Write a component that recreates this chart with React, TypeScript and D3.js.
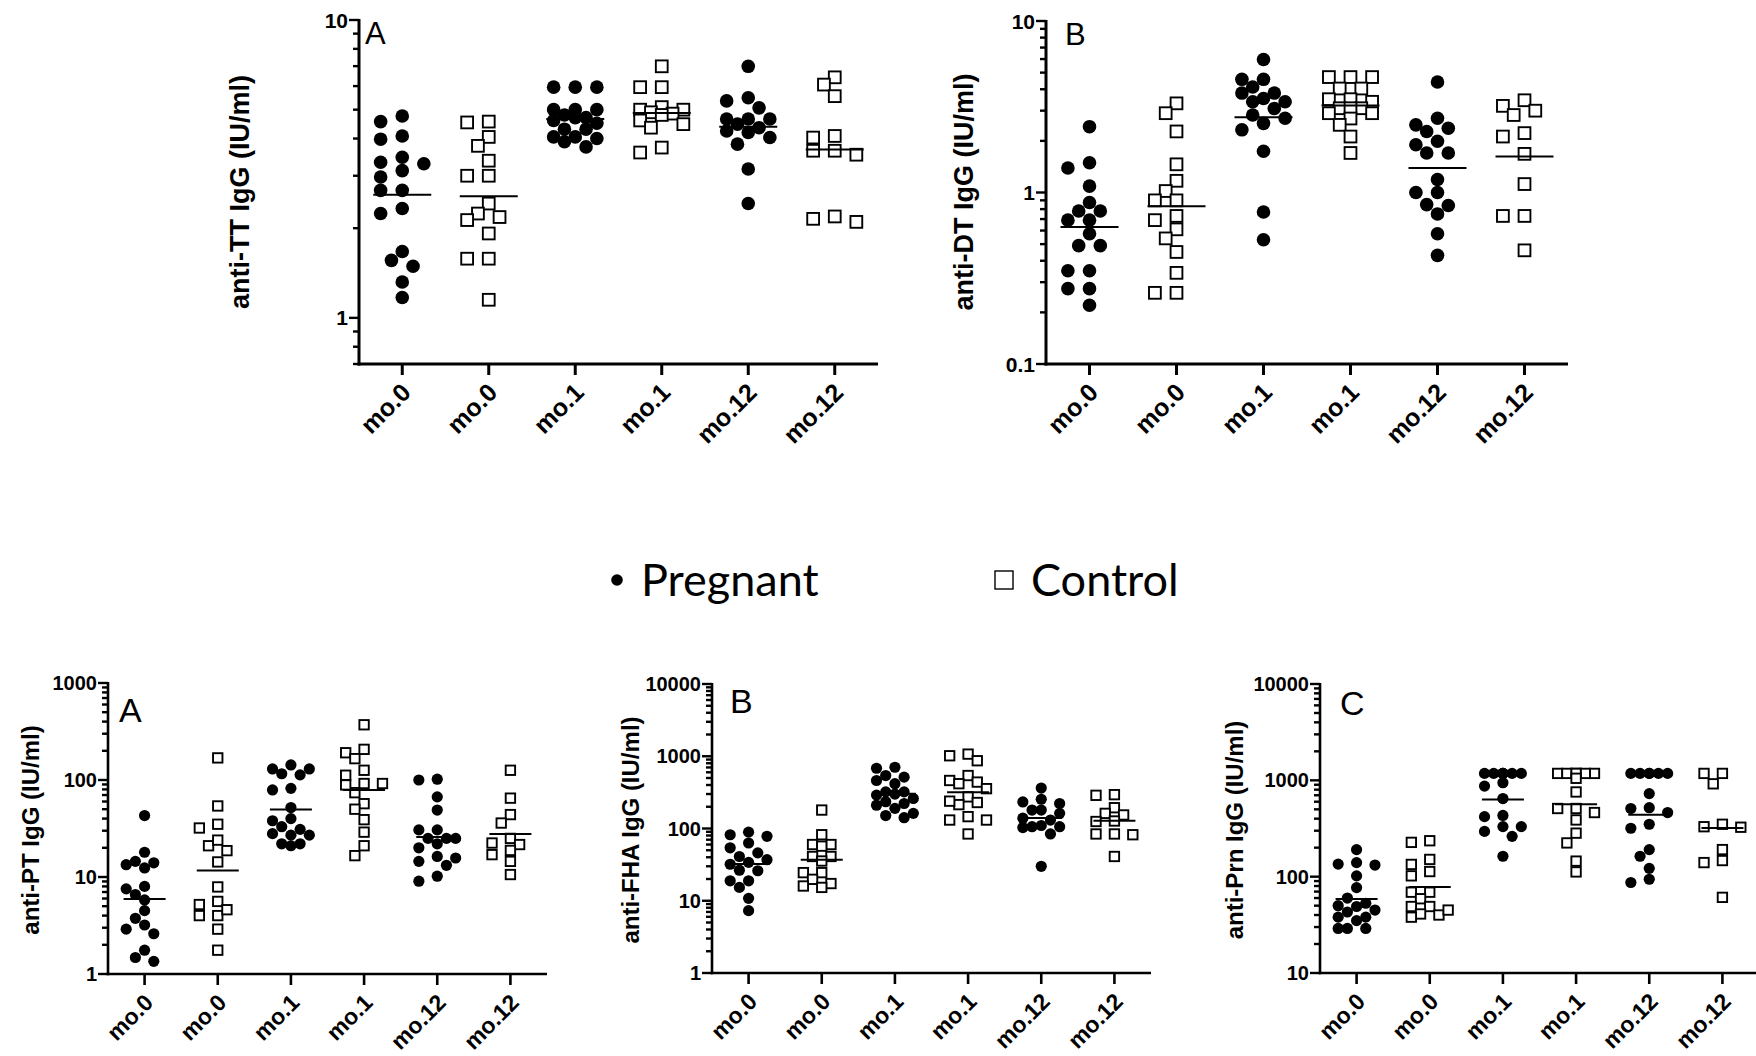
import React from "react";
import * as d3 from "d3";

// ---------- categories / legend ----------
const categories = ["mo.0", "mo.0", "mo.1", "mo.1", "mo.12", "mo.12"];
const groupKinds = ["Pregnant", "Control", "Pregnant", "Control", "Pregnant", "Control"];
const legendLabels = ["Pregnant", "Control"];

// ---------- anti-TT (IU/ml) ----------
const ttPregMo0 = [4.76, 4.56, 4.08, 3.98, 3.46, 3.33, 3.29, 3.12, 2.97, 2.68, 2.68, 2.33, 2.24, 1.67, 1.56, 1.49, 1.32, 1.17];
const ttCtrlMo0 = [4.53, 4.56, 4.05, 3.78, 3.37, 3.0, 3.0, 2.42, 2.24, 2.18, 2.13, 1.92, 1.58, 1.58, 1.15];
const ttPregMo1 = [5.95, 5.95, 5.95, 5.0, 5.0, 5.0, 4.8, 4.7, 4.7, 4.6, 4.5, 4.3, 4.3, 4.05, 4.05, 4.0, 3.9, 3.75];
const ttCtrlMo1 = [6.99, 5.95, 5.95, 5.1, 5.0, 5.0, 4.9, 4.85, 4.8, 4.6, 4.47, 4.35, 3.73, 3.59];
const ttPregMo12 = [6.99, 5.48, 5.35, 5.07, 4.65, 4.65, 4.65, 4.47, 4.35, 4.24, 4.19, 4.03, 3.83, 3.16, 2.42];
const ttCtrlMo12 = [6.42, 6.07, 5.55, 4.08, 4.03, 3.64, 3.53, 3.64, 2.19, 2.1, 2.15];

// ---------- anti-DT (IU/ml) ----------
const dtPregMo0 = [2.42, 1.49, 1.39, 1.09, 0.875, 0.78, 0.78, 0.69, 0.69, 0.575, 0.49, 0.49, 0.35, 0.35, 0.275, 0.275, 0.22];
const dtCtrlMo0 = [3.31, 2.9, 2.27, 1.46, 1.17, 1.02, 0.9, 0.9, 0.73, 0.69, 0.61, 0.54, 0.45, 0.34, 0.26, 0.26];
const dtPregMo1 = [5.96, 4.57, 4.57, 4.12, 3.8, 3.8, 3.53, 3.38, 3.38, 3.09, 2.83, 2.71, 2.53, 2.32, 1.74, 0.77, 0.53];
const dtCtrlMo1 = [4.71, 4.71, 4.71, 4.04, 4.04, 3.5, 3.5, 3.38, 3.1, 3.1, 3.1, 2.9, 2.9, 2.7, 2.48, 2.12, 1.7];
const dtPregMo12 = [4.41, 2.71, 2.48, 2.37, 2.27, 1.99, 1.9, 1.7, 1.7, 1.19, 1.0, 1.0, 0.85, 0.84, 0.75, 0.575, 0.43];
const dtCtrlMo12 = [3.45, 3.2, 3.0, 2.83, 2.22, 2.12, 1.68, 1.12, 0.73, 0.73, 0.46];

// ---------- anti-PT (IU/ml) ----------
const ptPregMo0 = [43, 18, 14, 14.5, 12.4, 13.4, 8.0, 6.6, 7.55, 5.8, 4.5, 3.75, 3.2, 2.9, 2.6, 1.76, 1.35, 1.48];
const ptCtrlMo0 = [169, 54, 32, 35, 21, 24, 18.7, 14.3, 7.9, 5.6, 5.2, 4.0, 4.6, 4.0, 2.9, 1.76];
const ptPregMo1 = [143, 116, 130, 113, 130, 82, 79, 52, 38, 40, 33, 31, 28, 27, 27, 22, 21, 22];
const ptCtrlMo1 = [371, 207, 191, 166, 126, 112, 92, 74, 89, 92, 57, 50, 39, 29, 21, 16.6];
const ptPregMo12 = [100, 102, 67, 49, 30.6, 30.6, 25, 25, 25, 20, 22, 15.7, 14.5, 16.3, 13.2, 9.05, 10.2];
const ptCtrlMo12 = [126, 65, 44, 36, 25, 22.4, 21.6, 18.8, 17, 14.5, 10.6];

// ---------- anti-FHA (IU/ml) ----------
const fhaPregMo0 = [89, 82, 78, 63, 54, 46, 41, 37, 34, 32, 26, 26.5, 18.9, 18.9, 15.3, 10.8, 7.3];
const fhaCtrlMo0 = [180, 82, 60, 60, 57, 41, 41, 35.5, 24.5, 24.5, 19.8, 17.3, 15.3, 16];
const fhaPregMo1 = [704, 682, 514, 541, 462, 417, 321, 321, 290, 300, 260, 235, 222, 190, 210, 162, 151, 141];
const fhaCtrlMo1 = [1016, 1070, 867, 541, 462, 417, 439, 356, 274, 214, 229, 239, 146, 131, 131, 84];
const fhaPregMo12 = [363, 254, 222, 233, 180, 180, 162, 139, 131, 103, 106, 106, 110, 84, 30];
const fhaCtrlMo12 = [294, 288, 194, 162, 154, 125, 127, 84, 82, 84, 41];

// ---------- anti-Prn (IU/ml) ----------
const prnPregMo0 = [191, 135, 140, 132, 102, 77, 60, 53, 49, 43, 45, 38, 38, 29, 29, 29, 50, 35];
const prnCtrlMo0 = [236, 227, 151, 134, 113, 102, 69, 69, 59, 49, 49, 41, 40, 38, 45];
const prnPregMo1 = [1180, 1180, 1180, 1180, 1180, 1180, 1180, 871, 944, 647, 420, 432, 331, 331, 295, 262, 163];
const prnCtrlMo1 = [1180, 1180, 1180, 1180, 1180, 1180, 1050, 757, 510, 510, 463, 388, 283, 224, 145, 112];
const prnPregMo12 = [1180, 1180, 1180, 1180, 1180, 1180, 728, 510, 520, 463, 318, 350, 191, 163, 122, 87, 94];
const prnCtrlMo12 = [1180, 1180, 920, 350, 326, 330, 191, 147, 140, 61];

// ---------- panel layout (positions / styles only) ----------
type Layout = {
  groups: number[][];
  yLabel: string;
  letter: string;
  domain: [number, number];
  x0: number; x1: number; yTop: number; yBot: number;
  labelX: number; labelY: number; labelSize: number;
  tickSize: number; catSize: number; catDy: number;
  letterX: number; letterY: number; letterSize: number;
  r: number; step: number; half: number; lw: number;
};

const topStyle = { labelSize: 27, tickSize: 21, catSize: 25, catDy: 30, letterSize: 31, r: 6.8, step: 10.8, half: 29, lw: 3 };
const botStyle = { labelSize: 24, tickSize: 20, catSize: 23, catDy: 30, letterSize: 34, r: 5.6, step: 9.2, half: 21, lw: 2.6 };

const panels: Layout[] = [
  { groups: [ttPregMo0, ttCtrlMo0, ttPregMo1, ttCtrlMo1, ttPregMo12, ttCtrlMo12], yLabel: "anti-TT IgG (IU/ml)", letter: "A",
    domain: [0.7, 10], x0: 359, x1: 878, yTop: 20, yBot: 364, labelX: 240, labelY: 192, letterX: 365, letterY: 44, ...topStyle },
  { groups: [dtPregMo0, dtCtrlMo0, dtPregMo1, dtCtrlMo1, dtPregMo12, dtCtrlMo12], yLabel: "anti-DT IgG (IU/ml)", letter: "B",
    domain: [0.1, 10], x0: 1046, x1: 1568, yTop: 21, yBot: 364, labelX: 964, labelY: 192, letterX: 1065, letterY: 45, ...topStyle },
  { groups: [ptPregMo0, ptCtrlMo0, ptPregMo1, ptCtrlMo1, ptPregMo12, ptCtrlMo12], yLabel: "anti-PT IgG (IU/ml)", letter: "A",
    domain: [1, 1000], x0: 108, x1: 547, yTop: 683, yBot: 974, labelX: 30, labelY: 830, letterX: 119, letterY: 722, ...botStyle },
  { groups: [fhaPregMo0, fhaCtrlMo0, fhaPregMo1, fhaCtrlMo1, fhaPregMo12, fhaCtrlMo12], yLabel: "anti-FHA IgG (IU/ml)", letter: "B",
    domain: [1, 10000], x0: 712, x1: 1151, yTop: 684, yBot: 973, labelX: 630, labelY: 830, letterX: 730, letterY: 713, ...botStyle },
  { groups: [prnPregMo0, prnCtrlMo0, prnPregMo1, prnCtrlMo1, prnPregMo12, prnCtrlMo12], yLabel: "anti-Prn IgG (IU/ml)", letter: "C",
    domain: [10, 10000], x0: 1320, x1: 1759, yTop: 684, yBot: 973, labelX: 1234, labelY: 830, letterX: 1340, letterY: 715, ...botStyle },
];

const FONT = "'Liberation Sans', Arial, sans-serif";

function logTicks(lo: number, hi: number) {
  const out: { v: number; major: boolean }[] = [];
  for (let e = Math.floor(Math.log10(lo)); e <= Math.ceil(Math.log10(hi)); e++) {
    for (let m = 1; m <= 9; m++) {
      const v = +(m * Math.pow(10, e)).toPrecision(6);
      if (v >= lo * 0.999 && v <= hi * 1.001) out.push({ v, major: m === 1 });
    }
  }
  return out;
}

function swarm(values: number[], y: (v: number) => number, step: number, diam: number, K: number) {
  const idx = values.map((_, i) => i).sort((a, b) => values[b] - values[a]);
  const order = [0];
  for (let k = 1; k <= K; k++) order.push(-k, k);
  const placed: { x: number; y: number }[] = [];
  const out = new Array(values.length).fill(0);
  for (const i of idx) {
    const py = y(values[i]);
    let best = 0, bestD = -1;
    for (const s of order) {
      const px = s * step;
      let minD = Infinity;
      for (const p of placed) minD = Math.min(minD, Math.hypot(p.x - px, p.y - py));
      if (minD >= diam * 0.95) { best = px; bestD = Infinity; break; }
      if (minD > bestD) { bestD = minD; best = px; }
    }
    placed.push({ x: best, y: py });
    out[i] = best;
  }
  return out;
}

function Panel({ p }: { p: Layout }) {
  const y = d3.scaleLog().domain(p.domain).range([p.yBot, p.yTop]);
  const x = d3.scalePoint<number>().domain(d3.range(categories.length)).range([p.x0, p.x1]).padding(0.5);
  const ticks = logTicks(p.domain[0], p.domain[1]);
  const d = p.r * 2;
  return (
    <g>
      <text x={p.labelX} y={p.labelY} transform={`rotate(-90 ${p.labelX} ${p.labelY})`} textAnchor="middle"
        dominantBaseline="central" fontFamily={FONT} fontWeight="bold" fontSize={p.labelSize} fill="#000">{p.yLabel}</text>
      {ticks.map((t, i) => (
        <line key={"t" + i} x1={p.x0 - (t.major ? 10 : 6)} x2={p.x0} y1={y(t.v)} y2={y(t.v)} stroke="#000" strokeWidth={2.4} />
      ))}
      {ticks.filter((t) => t.major).map((t, i) => (
        <text key={"l" + i} x={p.x0 - 11} y={y(t.v)} textAnchor="end" dominantBaseline="central"
          fontFamily={FONT} fontWeight="bold" fontSize={p.tickSize} fill="#000">{String(t.v)}</text>
      ))}
      <line x1={p.x0} x2={p.x0} y1={p.yTop - 1} y2={p.yBot + p.lw / 2} stroke="#000" strokeWidth={p.lw} />
      <line x1={p.x0 - p.lw / 2} x2={p.x1} y1={p.yBot} y2={p.yBot} stroke="#000" strokeWidth={p.lw} />
      {categories.map((c, i) => {
        const tx = x(i) as number;
        const lx = tx + 10;
        const ly = p.yBot + p.catDy;
        return (
          <g key={"c" + i}>
            <line x1={tx} x2={tx} y1={p.yBot} y2={p.yBot + 11} stroke="#000" strokeWidth={p.lw} />
            <text x={lx} y={ly} transform={`rotate(-45 ${lx} ${ly})`} textAnchor="end"
              fontFamily={FONT} fontWeight="bold" fontSize={p.catSize} fill="#000">{c}</text>
          </g>
        );
      })}
      <text x={p.letterX} y={p.letterY} fontFamily={FONT} fontSize={p.letterSize} fill="#000">{p.letter}</text>
      {p.groups.map((vals, gi) => {
        const cx = x(gi) as number;
        const offs = swarm(vals, (v) => y(v), p.step, d, 2);
        const gm = Math.pow(10, d3.mean(vals, (v) => Math.log10(v)) as number);
        const pregnant = groupKinds[gi] === "Pregnant";
        return (
          <g key={"g" + gi}>
            {vals.map((v, k) =>
              pregnant ? (
                <circle key={k} cx={cx + offs[k]} cy={y(v)} r={p.r} fill="#000" />
              ) : (
                <rect key={k} x={cx + offs[k] - p.r + 0.9} y={y(v) - p.r + 0.9} width={d - 1.8} height={d - 1.8}
                  fill="#fff" stroke="#000" strokeWidth={1.9} />
              )
            )}
            <line x1={cx - p.half} x2={cx + p.half} y1={y(gm)} y2={y(gm)} stroke="#000" strokeWidth={2} />
          </g>
        );
      })}
    </g>
  );
}

export default function App() {
  return (
    <svg width={1756} height={1056} viewBox="0 0 1756 1056" style={{ display: "block", position: "absolute", left: 0, top: 0, background: "#fff" }}>
      <rect x={0} y={0} width={1756} height={1056} fill="#fff" />
      {panels.map((p, i) => <Panel key={i} p={p} />)}
      <g fontFamily="Lato, 'Open Sans', sans-serif" fontSize={45} fill="#000">
        <circle cx={617} cy={580} r={5.8} fill="#000" />
        <text x={641} y={596}>{legendLabels[0]}</text>
        <rect x={995} y={571} width={18} height={18} fill="#fff" stroke="#000" strokeWidth={1.4} />
        <text x={1031} y={596}>{legendLabels[1]}</text>
      </g>
    </svg>
  );
}
